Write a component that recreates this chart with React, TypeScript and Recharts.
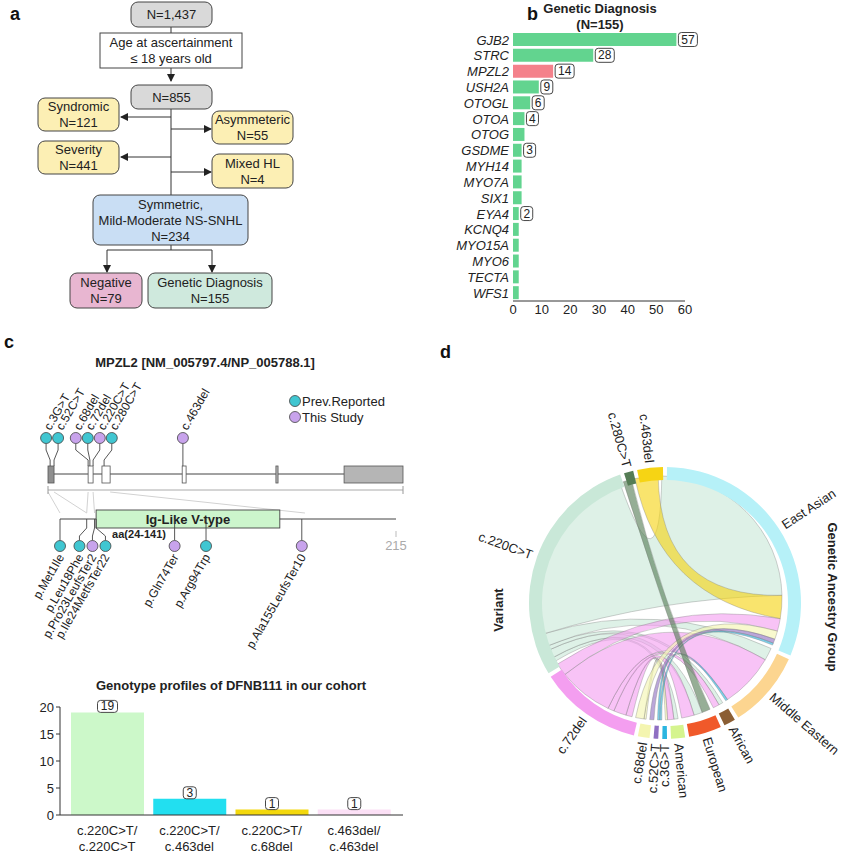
import React from "react";
import { BarChart, Bar, XAxis, YAxis, Cell, LabelList, PieChart, Pie } from "recharts";

const FONT = "'Liberation Sans', Arial, Helvetica, sans-serif";
const INK = "#222";
const TEAL = "#40c6d1";
const LILAC = "#c8a3ec";

// ---- b: genetic diagnosis ----
const genes = ["GJB2", "STRC", "MPZL2", "USH2A", "OTOGL", "OTOA", "OTOG", "GSDME", "MYH14", "MYO7A", "SIX1", "EYA4", "KCNQ4", "MYO15A", "MYO6", "TECTA", "WFS1"];
const geneCounts = [57, 28, 14, 9, 6, 4, 4, 3, 3, 3, 3, 2, 2, 2, 2, 2, 2];
const boxedGenes = ["GJB2", "STRC", "MPZL2", "USH2A", "OTOGL", "OTOA", "GSDME", "EYA4"];
const geneTicks = [0, 10, 20, 30, 40, 50, 60];

// ---- c (bottom): genotype profiles ----
const genotypes = ["c.220C>T/c.220C>T", "c.220C>T/c.463del", "c.220C>T/c.68del", "c.463del/c.463del"];
const genotypeCounts = [19, 3, 1, 1];
const genotypeColors = ["#ccf8c9", "#22dff0", "#f3d80c", "#fce0f6"];
const genotypeTicks = [0, 5, 10, 15, 20];

// ---- c (top): MPZL2 gene / protein ----
const exonSpans: [number, number][] = [[0, 17], [113, 127], [152, 175], [378, 389], [642, 648], [834, 1000]];
const exonShade = ["#8f8f8f", "#fff", "#fff", "#fff", "#b9b9b9", "#b5b5b5"];
const cdnaVariants = ["c.3G>T", "c.52C>T", "c.68del", "c.72del", "c.220C>T", "c.280C>T", "c.463del"];
const cdnaSite = [6, 17, 113, 118, 127, 158, 380];
const cdnaNovel = [false, false, true, false, true, false, true];
const proteinVariants = ["p.Met1Ile", "p.Leu18Phe", "p.Pro23LeufsTer2", "p.Ile24MetfsTer22", "p.Gln74Ter", "p.Arg94Trp", "p.Ala155LeufsTer10"];
const proteinSite = [1, 18, 23, 24, 74, 94, 155];
const proteinNovel = [false, false, true, false, true, false, true];
const proteinLength = 215;
const domain = [24, 141];
const exonToAa: [number, number][] = [[0, 1], [17, 18], [113, 18], [127, 23], [175, 157]];

// ---- d: chord ----
const ancestryGroups = ["East Asian", "Middle Eastern", "African", "European", "American"];
const ancestryColors = ["#b6f1f8", "#fcd590", "#8b5e34", "#f0592a", "#d5f48e"];
const chordVariants = ["c.3G>T", "c.52C>T", "c.68del", "c.72del", "c.220C>T", "c.280C>T", "c.463del"];
const chordVariantColors = ["#2bb5e0", "#8f6fc2", "#f4f5b0", "#f49ef0", "#c9e8d8", "#557d55", "#f6d414"];
// in clockwise order inside each variant sector
const links: [string, string, number][] = [
  ["c.3G>T", "East Asian", 1], ["c.3G>T", "Middle Eastern", 1],
  ["c.52C>T", "East Asian", 2],
  ["c.68del", "American", 1], ["c.68del", "East Asian", 4],
  ["c.72del", "American", 3], ["c.72del", "European", 6], ["c.72del", "African", 3], ["c.72del", "Middle Eastern", 26], ["c.72del", "East Asian", 6],
  ["c.220C>T", "American", 2], ["c.220C>T", "European", 4], ["c.220C>T", "African", 2], ["c.220C>T", "Middle Eastern", 6], ["c.220C>T", "East Asian", 88],
  ["c.280C>T", "European", 4],
  ["c.463del", "East Asian", 11],
];
const ancestryOrder: Record<string, string[]> = {
  "East Asian": ["c.220C>T", "c.463del", "c.72del", "c.68del", "c.52C>T", "c.3G>T"],
  "Middle Eastern": ["c.220C>T", "c.72del", "c.3G>T"],
  African: ["c.220C>T", "c.72del"],
  European: ["c.280C>T", "c.220C>T", "c.72del"],
  American: ["c.220C>T", "c.72del", "c.68del"],
};
const drawOrder = ["c.220C>T", "c.72del", "c.463del", "c.68del", "c.52C>T", "c.3G>T", "c.280C>T"];

const GAP = 1.7;
const CX = 660;
const CY = 598;
const R_IN = 123;
const R_OUT = 136;

const sectorNames = [...ancestryGroups, ...chordVariants];
const sectorColors = [...ancestryColors, ...chordVariantColors];
const sectorTotals = sectorNames.map((n) =>
  links.filter((l) => l[0] === n || l[1] === n).reduce((s, l) => s + l[2], 0)
);
const ringData = sectorNames.map((name, i) => ({ name, value: sectorTotals[i], color: sectorColors[i] }));

function chordLayout() {
  const total = sectorTotals.reduce((a, b) => a + b, 0);
  const k = (360 - GAP * sectorNames.length) / total;
  const start: Record<string, number> = {};
  let a = GAP / 2;
  sectorNames.forEach((n, i) => {
    start[n] = a;
    a += sectorTotals[i] * k + GAP;
  });
  const src = new Map<number, [number, number]>();
  const cur: Record<string, number> = { ...start };
  links.forEach((l, i) => {
    const s = cur[l[0]];
    src.set(i, [s, s + l[2] * k]);
    cur[l[0]] = s + l[2] * k;
  });
  const tgt = new Map<number, [number, number]>();
  ancestryGroups.forEach((g) => {
    ancestryOrder[g].forEach((v) => {
      links.forEach((l, i) => {
        if (l[0] === v && l[1] === g) {
          const s = cur[g];
          tgt.set(i, [s, s + l[2] * k]);
          cur[g] = s + l[2] * k;
        }
      });
    });
  });
  return { src, tgt };
}

const pt = (deg: number, r: number) => {
  const t = (deg * Math.PI) / 180;
  return [CX + r * Math.sin(t), CY - r * Math.cos(t)];
};

function ribbon(a0: number, a1: number, b0: number, b1: number) {
  const r = R_IN - 1;
  const [x0, y0] = pt(a0, r);
  const [x1, y1] = pt(a1, r);
  const [x2, y2] = pt(b0, r);
  const [x3, y3] = pt(b1, r);
  const la = a1 - a0 > 180 ? 1 : 0;
  const lb = b1 - b0 > 180 ? 1 : 0;
  return `M${x0},${y0} A${r},${r} 0 ${la} 1 ${x1},${y1} Q${CX},${CY} ${x2},${y2} A${r},${r} 0 ${lb} 1 ${x3},${y3} Q${CX},${CY} ${x0},${y0} Z`;
}

function spreadOut(anchors: number[], gap: number): number[] {
  const order = anchors.map((_, i) => i).sort((i, j) => anchors[i] - anchors[j]);
  const groups = order.map((i) => [i]);
  const centre = (g: number[]) => g.reduce((s, i) => s + anchors[i], 0) / g.length;
  let merged = true;
  while (merged) {
    merged = false;
    for (let k = 0; k < groups.length - 1; k++) {
      const a = groups[k];
      const b = groups[k + 1];
      const aEnd = centre(a) + ((a.length - 1) * gap) / 2;
      const bStart = centre(b) - ((b.length - 1) * gap) / 2;
      if (bStart - aEnd < gap) {
        groups.splice(k, 2, [...a, ...b]);
        merged = true;
        break;
      }
    }
  }
  const out: number[] = new Array(anchors.length);
  groups.forEach((g) => {
    const c = centre(g);
    g.forEach((i, j) => {
      out[i] = c + (j - (g.length - 1) / 2) * gap;
    });
  });
  return out;
}

function FlowChart() {
  const GRAY = "#d9d9d9";
  const YEL = "#fcefb4";
  const boxes: { x: number; y: number; w: number; h: number; fill: string; lines: string[]; rx?: number }[] = [
    { x: 131, y: 2, w: 81, h: 25, fill: GRAY, lines: ["N=1,437"] },
    { x: 100, y: 33, w: 142, h: 35, fill: "#fff", lines: ["Age at ascertainment", "≤ 18 years old"], rx: 0 },
    { x: 131, y: 85, w: 81, h: 24, fill: GRAY, lines: ["N=855"] },
    { x: 38, y: 98, w: 81, h: 33, fill: YEL, lines: ["Syndromic", "N=121"] },
    { x: 212, y: 111, w: 81, h: 33, fill: YEL, lines: ["Asymmeteric", "N=55"] },
    { x: 38, y: 141, w: 81, h: 33, fill: YEL, lines: ["Severity", "N=441"] },
    { x: 212, y: 154, w: 81, h: 34, fill: YEL, lines: ["Mixed HL", "N=4"] },
    { x: 93, y: 195, w: 155, h: 50, fill: "#c9def4", lines: ["Symmetric,", "Mild-Moderate NS-SNHL", "N=234"] },
    { x: 70, y: 273, w: 72, h: 35, fill: "#e8b6d1", lines: ["Negative", "N=79"] },
    { x: 148, y: 273, w: 124, h: 35, fill: "#cfe9dd", lines: ["Genetic Diagnosis", "N=155"] },
  ];
  const plain: [number, number, number, number][] = [
    [171, 27, 171, 33], [171, 109, 171, 195], [171, 245, 171, 250], [107, 250, 212, 250],
  ];
  const arrows: [number, number, number, number][] = [
    [171, 68, 171, 81], [171, 117, 121, 117], [171, 157, 121, 157], [171, 129, 211, 129],
    [171, 172, 211, 172], [107, 250, 107, 272], [212, 250, 212, 272],
  ];
  return (
    <g>
      {plain.map((l, i) => (
        <line key={"p" + i} x1={l[0]} y1={l[1]} x2={l[2]} y2={l[3]} stroke="#333" strokeWidth={1} />
      ))}
      {arrows.map((l, i) => (
        <line key={"a" + i} x1={l[0]} y1={l[1]} x2={l[2]} y2={l[3]} stroke="#333" strokeWidth={1} markerEnd="url(#arrowHead)" />
      ))}
      {boxes.map((b, i) => {
        const step = 16;
        const first = b.y + b.h / 2 - ((b.lines.length - 1) * step) / 2;
        return (
          <g key={"b" + i}>
            <rect x={b.x} y={b.y} width={b.w} height={b.h} rx={b.rx ?? 7} fill={b.fill} stroke="#444" strokeWidth={1} />
            {b.lines.map((t, j) => (
              <text key={j} x={b.x + b.w / 2} y={first + j * step} textAnchor="middle" dominantBaseline="central" fontSize={13} fill={INK}>
                {t}
              </text>
            ))}
          </g>
        );
      })}
    </g>
  );
}

function GeneDiagram() {
  const gx = (u: number) => 48 + (u / 1000) * 355;
  const ax = (a: number) => 60 + ((a - 1) / (proteinLength - 1)) * 336;
  const topAnchor = cdnaSite.map(gx);
  const topX = spreadOut(topAnchor, 12);
  const botAnchor = proteinSite.map(ax);
  const botX = spreadOut(botAnchor, 13);
  const topY = 438;
  const botY = 546;
  return (
    <g>
      <text x={205} y={362} textAnchor="middle" dominantBaseline="central" fontSize={13} fontWeight="bold" fill={INK}>
        MPZL2 [NM_005797.4/NP_005788.1]
      </text>
      {/* legend */}
      <circle cx={295} cy={401} r={5.5} fill={TEAL} stroke="#444" strokeWidth={0.8} />
      <text x={302} y={401} dominantBaseline="central" fontSize={13} fill={INK}>Prev.Reported</text>
      <circle cx={295} cy={417} r={5.5} fill={LILAC} stroke="#444" strokeWidth={0.8} />
      <text x={302} y={417} dominantBaseline="central" fontSize={13} fill={INK}>This Study</text>

      {/* zoom guides gene -> protein */}
      {exonToAa.map((m, i) => (
        <line key={"z" + i} x1={gx(m[0])} y1={492} x2={ax(m[1])} y2={513} stroke="#d2d2d2" strokeWidth={1} />
      ))}

      {/* gene */}
      <line x1={gx(0)} y1={474} x2={gx(1000)} y2={474} stroke="#444" strokeWidth={1} />
      {exonSpans.map((e, i) => (
        <rect key={"e" + i} x={gx(e[0])} y={466} width={Math.max(gx(e[1]) - gx(e[0]), 2)} height={17} fill={exonShade[i]} stroke="#555" strokeWidth={0.8} />
      ))}
      <line x1={gx(0)} y1={490} x2={gx(1000)} y2={490} stroke="#aaa" strokeWidth={1} />
      <line x1={gx(0)} y1={486} x2={gx(0)} y2={494} stroke="#999" strokeWidth={1} />
      <line x1={gx(1000)} y1={486} x2={gx(1000)} y2={494} stroke="#999" strokeWidth={1} />

      {cdnaVariants.map((v, i) => (
        <g key={v}>
          <polyline
            points={`${topX[i]},${topY + 5.5} ${topX[i]},${450} ${topAnchor[i]},${460} ${topAnchor[i]},${466}`}
            fill="none"
            stroke="#444"
            strokeWidth={0.9}
          />
          <circle cx={topX[i]} cy={topY} r={5.5} fill={cdnaNovel[i] ? LILAC : TEAL} stroke="#444" strokeWidth={0.8} />
          <text x={topX[i] + 1} y={topY - 9} transform={`rotate(-60 ${topX[i] + 1} ${topY - 9})`} dominantBaseline="central" fontSize={12} fill={INK}>
            {v}
          </text>
        </g>
      ))}

      {/* protein */}
      <line x1={ax(1)} y1={519} x2={ax(proteinLength)} y2={519} stroke="#444" strokeWidth={1} />
      <rect x={ax(domain[0])} y={510} width={ax(domain[1]) - ax(domain[0])} height={18} fill="#ccf5cc" stroke="#444" strokeWidth={0.9} />
      <text x={(ax(domain[0]) + ax(domain[1])) / 2} y={519} textAnchor="middle" dominantBaseline="central" fontSize={13} fontWeight="bold" fill={INK}>
        Ig-Like V-type
      </text>
      <text x={ax(domain[0]) + 16} y={534} dominantBaseline="central" fontSize={11} fontWeight="bold" fill={INK}>
        aa({domain[0]}-{domain[1]})
      </text>
      <line x1={ax(proteinLength)} y1={531} x2={ax(proteinLength)} y2={537} stroke="#bbb" strokeWidth={1} />
      <text x={ax(proteinLength)} y={545} textAnchor="middle" dominantBaseline="central" fontSize={13} fill="#aaa">
        {proteinLength}
      </text>

      {proteinVariants.map((v, i) => (
        <g key={v}>
          <polyline
            points={`${botAnchor[i]},${519} ${botAnchor[i]},${528} ${botX[i]},${536} ${botX[i]},${botY - 5.5}`}
            fill="none"
            stroke="#444"
            strokeWidth={0.9}
          />
          <circle cx={botX[i]} cy={botY} r={5.5} fill={proteinNovel[i] ? LILAC : TEAL} stroke="#444" strokeWidth={0.8} />
          <text x={botX[i] + 1} y={botY + 9} transform={`rotate(-60 ${botX[i] + 1} ${botY + 9})`} textAnchor="end" dominantBaseline="central" fontSize={12} fill={INK}>
            {v}
          </text>
        </g>
      ))}
    </g>
  );
}

function ChordRibbons() {
  const { src, tgt } = chordLayout();
  const colorOf = (n: string) => chordVariantColors[chordVariants.indexOf(n)];
  const idx = drawOrder.flatMap((v) => links.map((l, i) => (l[0] === v ? i : -1)).filter((i) => i >= 0));
  return (
    <g>
      {idx.map((i) => {
        const s = src.get(i)!;
        const t = tgt.get(i)!;
        return (
          <path
            key={i}
            d={ribbon(s[0], s[1], t[0], t[1])}
            fill={colorOf(links[i][0])}
            fillOpacity={0.62}
            stroke="#7a7a7a"
            strokeOpacity={0.7}
            strokeWidth={0.5}
          />
        );
      })}
      <text x={498} y={610} transform="rotate(-90 498 610)" textAnchor="middle" dominantBaseline="central" fontSize={13} fontWeight="bold" fill={INK}>
        Variant
      </text>
      <text x={832} y={597} transform="rotate(90 832 597)" textAnchor="middle" dominantBaseline="central" fontSize={13} fontWeight="bold" fill={INK}>
        Genetic Ancestry Group
      </text>
    </g>
  );
}

const ChordLabel = (props: any) => {
  const { cx, cy, midAngle, outerRadius } = props;
  const name = props.name ?? props.payload?.name;
  const theta = (((90 - midAngle) % 360) + 360) % 360;
  const t = (theta * Math.PI) / 180;
  const r = outerRadius + 5;
  const x = cx + r * Math.sin(t);
  const y = cy - r * Math.cos(t);
  const right = theta < 180;
  const rot = right ? theta - 90 : theta - 270;
  return (
    <text x={x} y={y} transform={`rotate(${rot} ${x} ${y})`} textAnchor={right ? "start" : "end"} dominantBaseline="central" fontSize={13} fill={INK}>
      {name}
    </text>
  );
};

const CountBoxRight = (props: any) => {
  const vb = props.viewBox ?? {};
  const x = props.x ?? vb.x;
  const y = props.y ?? vb.y;
  const width = props.width ?? vb.width;
  const height = props.height ?? vb.height;
  const { value } = props;
  if (value == null) return null;
  const w = String(value).length * 7 + 5;
  const bx = x + width + 2;
  const cy = y + height / 2;
  return (
    <g>
      <rect x={bx} y={cy - 7} width={w} height={14} rx={3} fill="#fff" stroke="#333" strokeWidth={0.9} />
      <text x={bx + w / 2} y={cy} textAnchor="middle" dominantBaseline="central" fontSize={12} fill={INK}>
        {value}
      </text>
    </g>
  );
};

const CountBoxTop = (props: any) => {
  const vb = props.viewBox ?? {};
  const x = props.x ?? vb.x;
  const y = props.y ?? vb.y;
  const width = props.width ?? vb.width;
  const { value } = props;
  if (value == null) return null;
  const w = String(value).length * 7 + 6;
  const bx = x + width / 2 - w / 2;
  return (
    <g>
      <rect x={bx} y={y - 12} width={w} height={12} rx={3} fill="#fff" fillOpacity={0.6} stroke="#333" strokeWidth={0.9} />
      <text x={x + width / 2} y={y - 6} textAnchor="middle" dominantBaseline="central" fontSize={12} fill={INK}>
        {value}
      </text>
    </g>
  );
};

const GenotypeTick = (props: any) => {
  const { x, y, payload } = props;
  const s = String(payload.value);
  const cut = s.indexOf("/") + 1;
  return (
    <text x={x} y={y} textAnchor="middle" fontSize={13} fill={INK}>
      <tspan x={x} dy={12}>{s.slice(0, cut)}</tspan>
      <tspan x={x} dy={16}>{s.slice(cut)}</tspan>
    </text>
  );
};

export default function App() {
  const geneRows = genes.map((gene, i) => ({
    gene,
    count: geneCounts[i],
    box: boxedGenes.includes(gene) ? geneCounts[i] : null,
  }));
  const genotypeRows = genotypes.map((g, i) => ({ genotype: g, count: genotypeCounts[i] }));

  return (
    <div style={{ position: "absolute", left: 0, top: 0, width: 843, height: 855, background: "#fff", fontFamily: FONT, overflow: "hidden" }}>
      <svg width={843} height={855} style={{ position: "absolute", left: 0, top: 0 }} fontFamily={FONT}>
        <defs>
          <marker id="arrowHead" markerUnits="userSpaceOnUse" markerWidth={8} markerHeight={8} refX={7} refY={4} orient="auto">
            <path d="M0,0 L8,4 L0,8 z" fill="#222" />
          </marker>
        </defs>
        <text x={10} y={20} fontSize={18} fontWeight="bold" fill="#111">a</text>
        <text x={527} y={20} fontSize={18} fontWeight="bold" fill="#111">b</text>
        <text x={4} y={348} fontSize={18} fontWeight="bold" fill="#111">c</text>
        <text x={440} y={358} fontSize={18} fontWeight="bold" fill="#111">d</text>
        <FlowChart />
        <text x={600} y={8} textAnchor="middle" dominantBaseline="central" fontSize={13} fontWeight="bold" fill={INK}>Genetic Diagnosis</text>
        <text x={600} y={24} textAnchor="middle" dominantBaseline="central" fontSize={13} fontWeight="bold" fill={INK}>(N=155)</text>
        <GeneDiagram />
        <text x={231} y={685} textAnchor="middle" dominantBaseline="central" fontSize={13} fontWeight="bold" fill={INK}>
          Genotype profiles of DFNB111 in our cohort
        </text>
        <ChordRibbons />
      </svg>

      <div style={{ position: "absolute", left: 440, top: 0 }}>
        <BarChart width={260} height={320} data={geneRows} layout="vertical" margin={{ top: 32, right: 15, bottom: 1, left: 0 }}>
          <XAxis type="number" domain={[0, 60]} ticks={geneTicks} interval={0} tickLine={false} tickSize={2} height={18} axisLine={{ stroke: "#333" }} tick={{ fontSize: 13, fill: INK }} />
          <YAxis type="category" dataKey="gene" width={73} interval={0} axisLine={false} tickLine={false} tickSize={2} tick={{ fontSize: 13, fill: INK, fontStyle: "italic" }} />
          <Bar dataKey="count" barSize={13} isAnimationActive={false}>
            {geneRows.map((r) => (
              <Cell key={r.gene} fill={r.gene === "MPZL2" ? "#f4818b" : "#62d48f"} />
            ))}
            <LabelList dataKey="box" content={CountBoxRight} />
          </Bar>
        </BarChart>
      </div>

      <div style={{ position: "absolute", left: 0, top: 670 }}>
        <BarChart width={420} height={185} data={genotypeRows} margin={{ top: 37, right: 17, bottom: 2, left: 0 }}>
          <XAxis dataKey="genotype" interval={0} tickLine={false} height={38} padding={{ left: 6, right: 8 }} axisLine={{ stroke: "#333" }} tick={<GenotypeTick />} />
          <YAxis domain={[0, 20]} ticks={genotypeTicks} interval={0} width={60} tickSize={4} axisLine={{ stroke: "#333" }} tickLine={{ stroke: "#333" }} tick={{ fontSize: 13, fill: INK }} />
          <Bar dataKey="count" barSize={73} isAnimationActive={false}>
            {genotypeRows.map((r, i) => (
              <Cell key={r.genotype} fill={genotypeColors[i]} />
            ))}
            <LabelList dataKey="count" content={CountBoxTop} />
          </Bar>
        </BarChart>
      </div>

      <div style={{ position: "absolute", left: 440, top: 330 }}>
        <PieChart width={403} height={525}>
          <Pie
            data={ringData}
            dataKey="value"
            nameKey="name"
            cx={CX - 440}
            cy={CY - 330}
            innerRadius={R_IN}
            outerRadius={R_OUT}
            startAngle={90 - GAP / 2}
            endAngle={90 - GAP / 2 - (360 - GAP)}
            paddingAngle={GAP}
            stroke="none"
            label={ChordLabel}
            labelLine={false}
            isAnimationActive={false}
          >
            {ringData.map((d) => (
              <Cell key={d.name} fill={d.color} />
            ))}
          </Pie>
        </PieChart>
      </div>
    </div>
  );
}
